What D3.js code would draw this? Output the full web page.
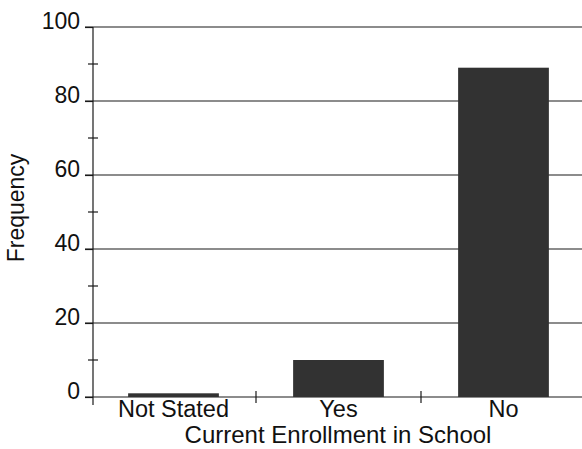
<!DOCTYPE html>
<html><head><meta charset="utf-8">
<script src="https://cdn.jsdelivr.net/npm/d3@7"></script>
<style>body{margin:0;background:#fff}svg{display:block}text{font-family:"Liberation Sans",Arial,sans-serif;fill:#111}</style>
</head><body><svg id="c" width="582" height="449"></svg>
<script>
const categories = ["Not Stated", "Yes", "No"];
const frequencies = [1, 10, 89];
const yTicks = [0, 20, 40, 60, 80, 100];
const yMinorTicks = [10, 30, 50, 70, 90];

const svg = d3.select("#c");
const x = d3.scaleBand().domain(categories).range([91, 586]).paddingInner(0.45).paddingOuter(0.225);
const y = d3.scaleLinear().domain([0, 100]).range([397, 27]);
const ink = "#1a1a1a";

// gridlines
svg.append("g").selectAll("line").data(yTicks).join("line")
  .attr("x1", 85).attr("x2", 582)
  .attr("y1", d => y(d)).attr("y2", d => y(d))
  .attr("stroke", ink).attr("stroke-width", 1.2);

// bars
svg.append("g").selectAll("rect").data(frequencies).join("rect")
  .attr("x", (d, i) => x(categories[i]))
  .attr("width", x.bandwidth())
  .attr("y", d => y(d))
  .attr("height", d => y(0) - y(d))
  .attr("fill", "#323232");

// y axis
const yAxis = svg.append("g").attr("transform", "translate(93,0)")
  .call(d3.axisLeft(y).tickValues(yTicks).tickSize(8).tickPadding(5).tickFormat(d3.format("d")));
yAxis.select(".domain").remove();
yAxis.selectAll("line").attr("stroke", ink).attr("stroke-width", 1.2);
yAxis.selectAll("text").attr("font-size", 23).attr("fill", "#111").attr("dy", "0.05em")
  .style("font-family", '"Liberation Sans",Arial,sans-serif');
svg.append("line").attr("x1", 93).attr("x2", 93).attr("y1", y(100)).attr("y2", 405)
  .attr("stroke", ink).attr("stroke-width", 1.2);
svg.append("g").selectAll("line").data(yMinorTicks).join("line")
  .attr("x1", 88).attr("x2", 98)
  .attr("y1", d => y(d)).attr("y2", d => y(d))
  .attr("stroke", ink).attr("stroke-width", 1.2);

// x axis
const step = x.step();
const bounds = categories.slice(1).map(c => x(c) - (step - x.bandwidth()) / 2);
svg.append("g").selectAll("line").data(bounds).join("line")
  .attr("x1", d => d).attr("x2", d => d)
  .attr("y1", y(0) - 6).attr("y2", y(0) + 6)
  .attr("stroke", ink).attr("stroke-width", 1.2);
svg.append("g").selectAll("text").data(categories).join("text")
  .attr("x", d => x(d) + x.bandwidth() / 2)
  .attr("y", 417)
  .attr("text-anchor", "middle").attr("font-size", 23.5).text(d => d);

// axis titles
svg.append("text").attr("x", 338).attr("y", 443).attr("text-anchor", "middle")
  .attr("font-size", 24).text("Current Enrollment in School");
svg.append("text").attr("transform", "translate(24,208) rotate(-90)").attr("text-anchor", "middle")
  .attr("font-size", 23).text("Frequency");
</script></body></html>
